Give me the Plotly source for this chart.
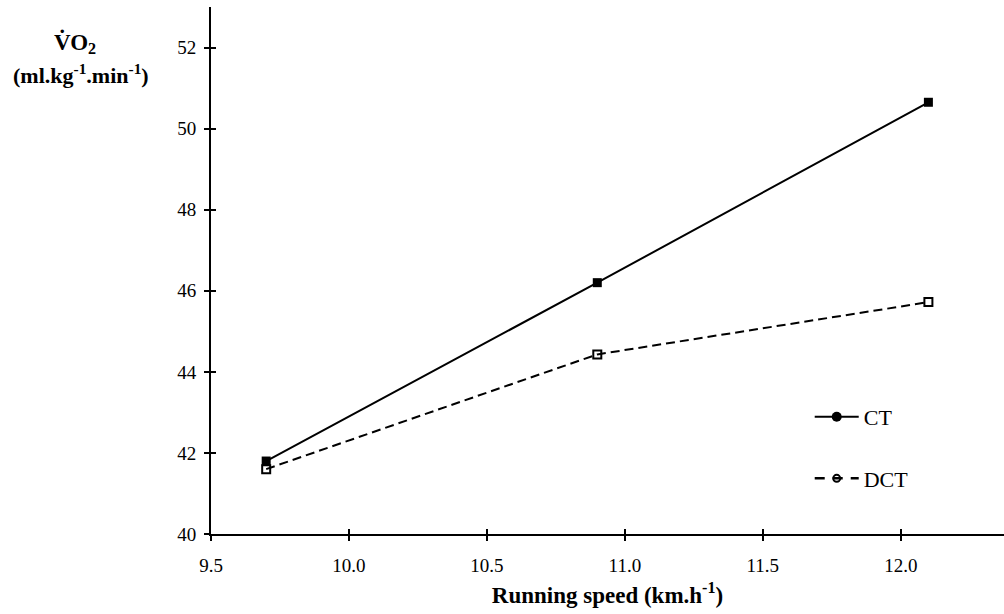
import plotly.graph_objects as go

# Running speed (km/h) and oxygen uptake (ml/kg/min) per condition
speed = [9.7, 10.9, 12.1]
vo2_ct = [41.8, 46.2, 50.65]
vo2_dct = [41.6, 44.43, 45.72]

x_ticks = [9.5, 10.0, 10.5, 11.0, 11.5, 12.0]
x_tick_text = ["9.5", "10.0", "10.5", "11.0", "11.5", "12.0"]
y_ticks = [40, 42, 44, 46, 48, 50, 52]

X_RANGE = [9.5, 12.374]
Y_RANGE = [40, 53]

SERIF = "Liberation Serif, Times New Roman, serif"

fig = go.Figure()

# data series (legend entries are drawn by separate legend-only traces)
fig.add_trace(go.Scatter(
    x=speed, y=vo2_ct, mode="lines+markers", name="CT", showlegend=False,
    line=dict(color="black", width=2),
    marker=dict(symbol="square", size=9, color="black"),
))
fig.add_trace(go.Scatter(
    x=speed, y=vo2_dct, mode="lines+markers", name="DCT", showlegend=False,
    line=dict(color="black", width=2, dash="9px,5px"),
    marker=dict(symbol="square-open", size=8, color="black", line=dict(width=2)),
))

# legend samples
fig.add_trace(go.Scatter(
    x=[None], y=[None], mode="lines+markers", name="CT", legendgroup="a",
    line=dict(color="black", width=2),
    marker=dict(symbol="circle", size=10, color="black"),
))
fig.add_trace(go.Scatter(
    x=[None], y=[None], mode="lines+markers", name="DCT", legendgroup="b",
    line=dict(color="black", width=2.5, dash="10px,8px"),
    marker=dict(symbol="circle-open", size=7, color="black", line=dict(width=2)),
))

# invisible helper trace on a second, coincident subplot that carries the
# inner half of the crossing tick marks
fig.add_trace(go.Scatter(x=[10.0], y=[46], xaxis="x2", yaxis="y2", mode="markers",
                         marker=dict(opacity=0), showlegend=False, hoverinfo="skip"))

tick_font = dict(family=SERIF, size=19, color="black")

fig.update_layout(
    width=1004, height=614,
    margin=dict(l=211, r=0, t=7, b=80),
    paper_bgcolor="white", plot_bgcolor="rgba(0,0,0,0)",
    showlegend=True,
    legend=dict(
        x=0.755, y=0.262, xanchor="left", yanchor="top",
        font=dict(family=SERIF, size=22, color="black"),
        bgcolor="rgba(0,0,0,0)", tracegroupgap=30, itemwidth=44,
    ),
    xaxis=dict(
        domain=[0, 1], range=X_RANGE, tickmode="array", tickvals=x_ticks, ticktext=x_tick_text,
        showgrid=False, zeroline=False, showline=True, linecolor="black", linewidth=2,
        ticks="outside", ticklen=5, tickwidth=1.5, tickcolor="black",
        tickfont=tick_font, ticklabelstandoff=8,
        title=dict(text="Running speed (km.h<sup>-1</sup>)", standoff=12,
                   font=dict(family=SERIF, size=23, color="black", weight="bold")),
    ),
    yaxis=dict(
        domain=[0, 1], range=Y_RANGE, tickmode="array", tickvals=y_ticks,
        showgrid=False, zeroline=False, showline=True, linecolor="black", linewidth=2,
        ticks="outside", ticklen=5, tickwidth=1.5, tickcolor="black",
        tickfont=tick_font, ticklabelstandoff=4,
    ),
    xaxis2=dict(
        domain=[0, 1], range=X_RANGE, anchor="y2", side="bottom",
        tickmode="array", tickvals=x_ticks,
        showgrid=False, zeroline=False, showline=False, showticklabels=False,
        ticks="inside", ticklen=5, tickwidth=1.5, tickcolor="black",
    ),
    yaxis2=dict(
        domain=[0, 1], range=Y_RANGE, anchor="x2", side="left",
        tickmode="array", tickvals=y_ticks,
        showgrid=False, zeroline=False, showline=False, showticklabels=False,
        ticks="inside", ticklen=5, tickwidth=1.5, tickcolor="black",
    ),
    annotations=[
        dict(text="<b>V\u0307O<sub>2</sub></b>", xref="paper", yref="paper",
             x=-0.172, y=0.932, xanchor="center", yanchor="middle", showarrow=False,
             font=dict(family=SERIF, size=23, color="black")),
        dict(text="<b>(ml.kg<sup>-1</sup>.min<sup>-1</sup>)</b>", xref="paper", yref="paper",
             x=-0.164, y=0.872, xanchor="center", yanchor="middle", showarrow=False,
             font=dict(family=SERIF, size=22, color="black")),
    ],
)

fig.write_html("out.html")
